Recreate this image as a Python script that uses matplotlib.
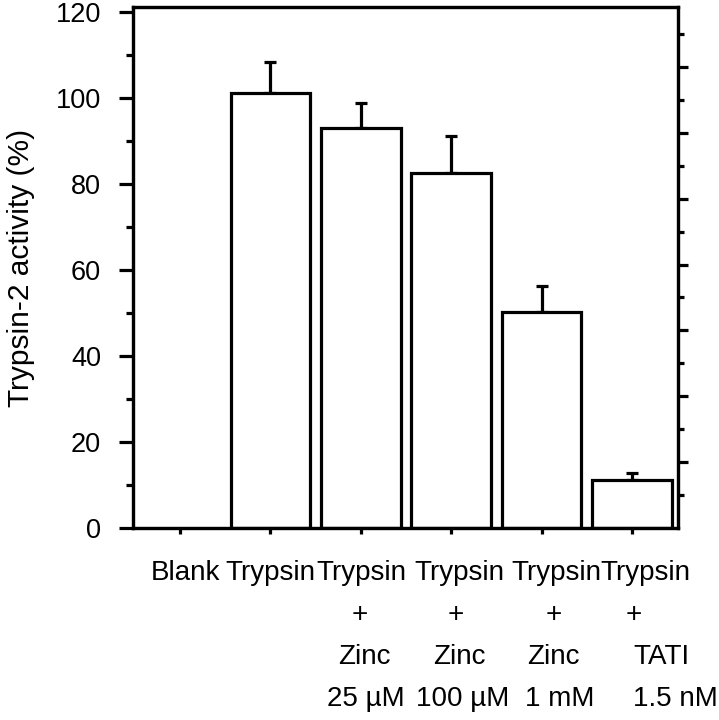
import matplotlib
matplotlib.use("Agg")
import matplotlib.pyplot as plt
import numpy as np

plt.rcParams['font.family'] = ['Liberation Sans', 'DejaVu Sans']

# ---- data ----
categories = ['Blank', 'Trypsin', 'Trypsin + Zinc 25 µM', 'Trypsin + Zinc 100 µM',
              'Trypsin + Zinc 1 mM', 'Trypsin + TATI 1.5 nM']
activity = [0.0, 101.3, 93.0, 82.6, 50.2, 11.2]
error_up = [0.0, 7.0, 5.8, 8.6, 6.1, 1.7]
row1 = ['Blank', 'Trypsin', 'Trypsin', 'Trypsin', 'Trypsin', 'Trypsin']
row2 = ['', '', '+', '+', '+', '+']
row3 = ['', '', 'Zinc', 'Zinc', 'Zinc', 'TATI']
row4 = ['', '', '25 µM', '100 µM', '1 mM', '1.5 nM']
y_ticks = [0, 20, 40, 60, 80, 100, 120]
y_label = 'Trypsin-2 activity (%)'

# ---- layout (label centres in data x units, one list per text row) ----
row_x = [
    [0.066, 0.996, 2.01, 3.09, 4.16, 5.15],
    [0, 0, 1.99, 3.05, 4.14, 5.02],
    [0, 0, 2.04, 3.09, 4.13, 5.33],
    [0, 0, 2.06, 3.13, 4.20, 5.48],
]
row_y = [-0.100, -0.181, -0.261, -0.342]

LW = 2.3
fig = plt.figure(figsize=(7.19, 7.20), dpi=100)
ax = fig.add_axes([0.185, 0.2667, 0.758, 0.7236])
x = np.arange(len(categories))

bar_h = [v if v > 0 else np.nan for v in activity]
ax.bar(x, bar_h, width=0.88, facecolor='white', edgecolor='black', linewidth=LW, zorder=2)
idx = [i for i, v in enumerate(activity) if v > 0]
ax.errorbar([x[i] for i in idx], [activity[i] for i in idx],
            yerr=[[0] * len(idx), [error_up[i] for i in idx]],
            fmt='none', ecolor='black', elinewidth=LW, capsize=4, capthick=LW, zorder=1)

ax.set_xlim(-0.52, 5.51)
ax.set_ylim(0, 121.2)
ax.set_yticks(y_ticks)
ax.set_yticklabels([str(v) for v in y_ticks], fontsize=19.5)
ax.set_yticks(np.arange(10, 120, 20), minor=True)
ax.tick_params(axis='y', which='major', direction='out', length=10, width=LW, pad=13)
ax.tick_params(axis='y', which='minor', direction='out', length=5, width=LW)
ax.yaxis.get_major_ticks()[-1].tick1line.set_visible(False)
ax.set_xticks(x)
ax.set_xticklabels([])
ax.tick_params(axis='x', which='major', direction='out', length=4, width=LW)
ax.tick_params(right=False, top=False)
for s in ax.spines.values():
    s.set_linewidth(LW)

ax.set_ylabel(y_label, fontsize=21.5)
ax.yaxis.set_label_coords(-0.180, 0.5)

trans = matplotlib.transforms.blended_transform_factory(ax.transData, ax.transAxes)
for row, xs, yy in zip([row1, row2, row3, row4], row_x, row_y):
    for xi, t in zip(xs, row):
        if t:
            ax.text(xi, yy, t, transform=trans, ha='center', va='baseline',
                    fontsize=20, clip_on=False)

# right-hand axis with its own unlabeled tick scale
ax2 = ax.twinx()
ax2.set_ylim(0, 15.82)
ax2.set_yticks(np.arange(2, 16, 2))
ax2.set_yticks(np.arange(1, 16, 2), minor=True)
ax2.set_yticklabels([])
ax2.tick_params(axis='y', which='major', direction='out', length=7, width=LW)
ax2.tick_params(axis='y', which='minor', direction='out', length=4, width=LW)
for s in ax2.spines.values():
    s.set_linewidth(LW)

fig.savefig('out.png', dpi=100)
